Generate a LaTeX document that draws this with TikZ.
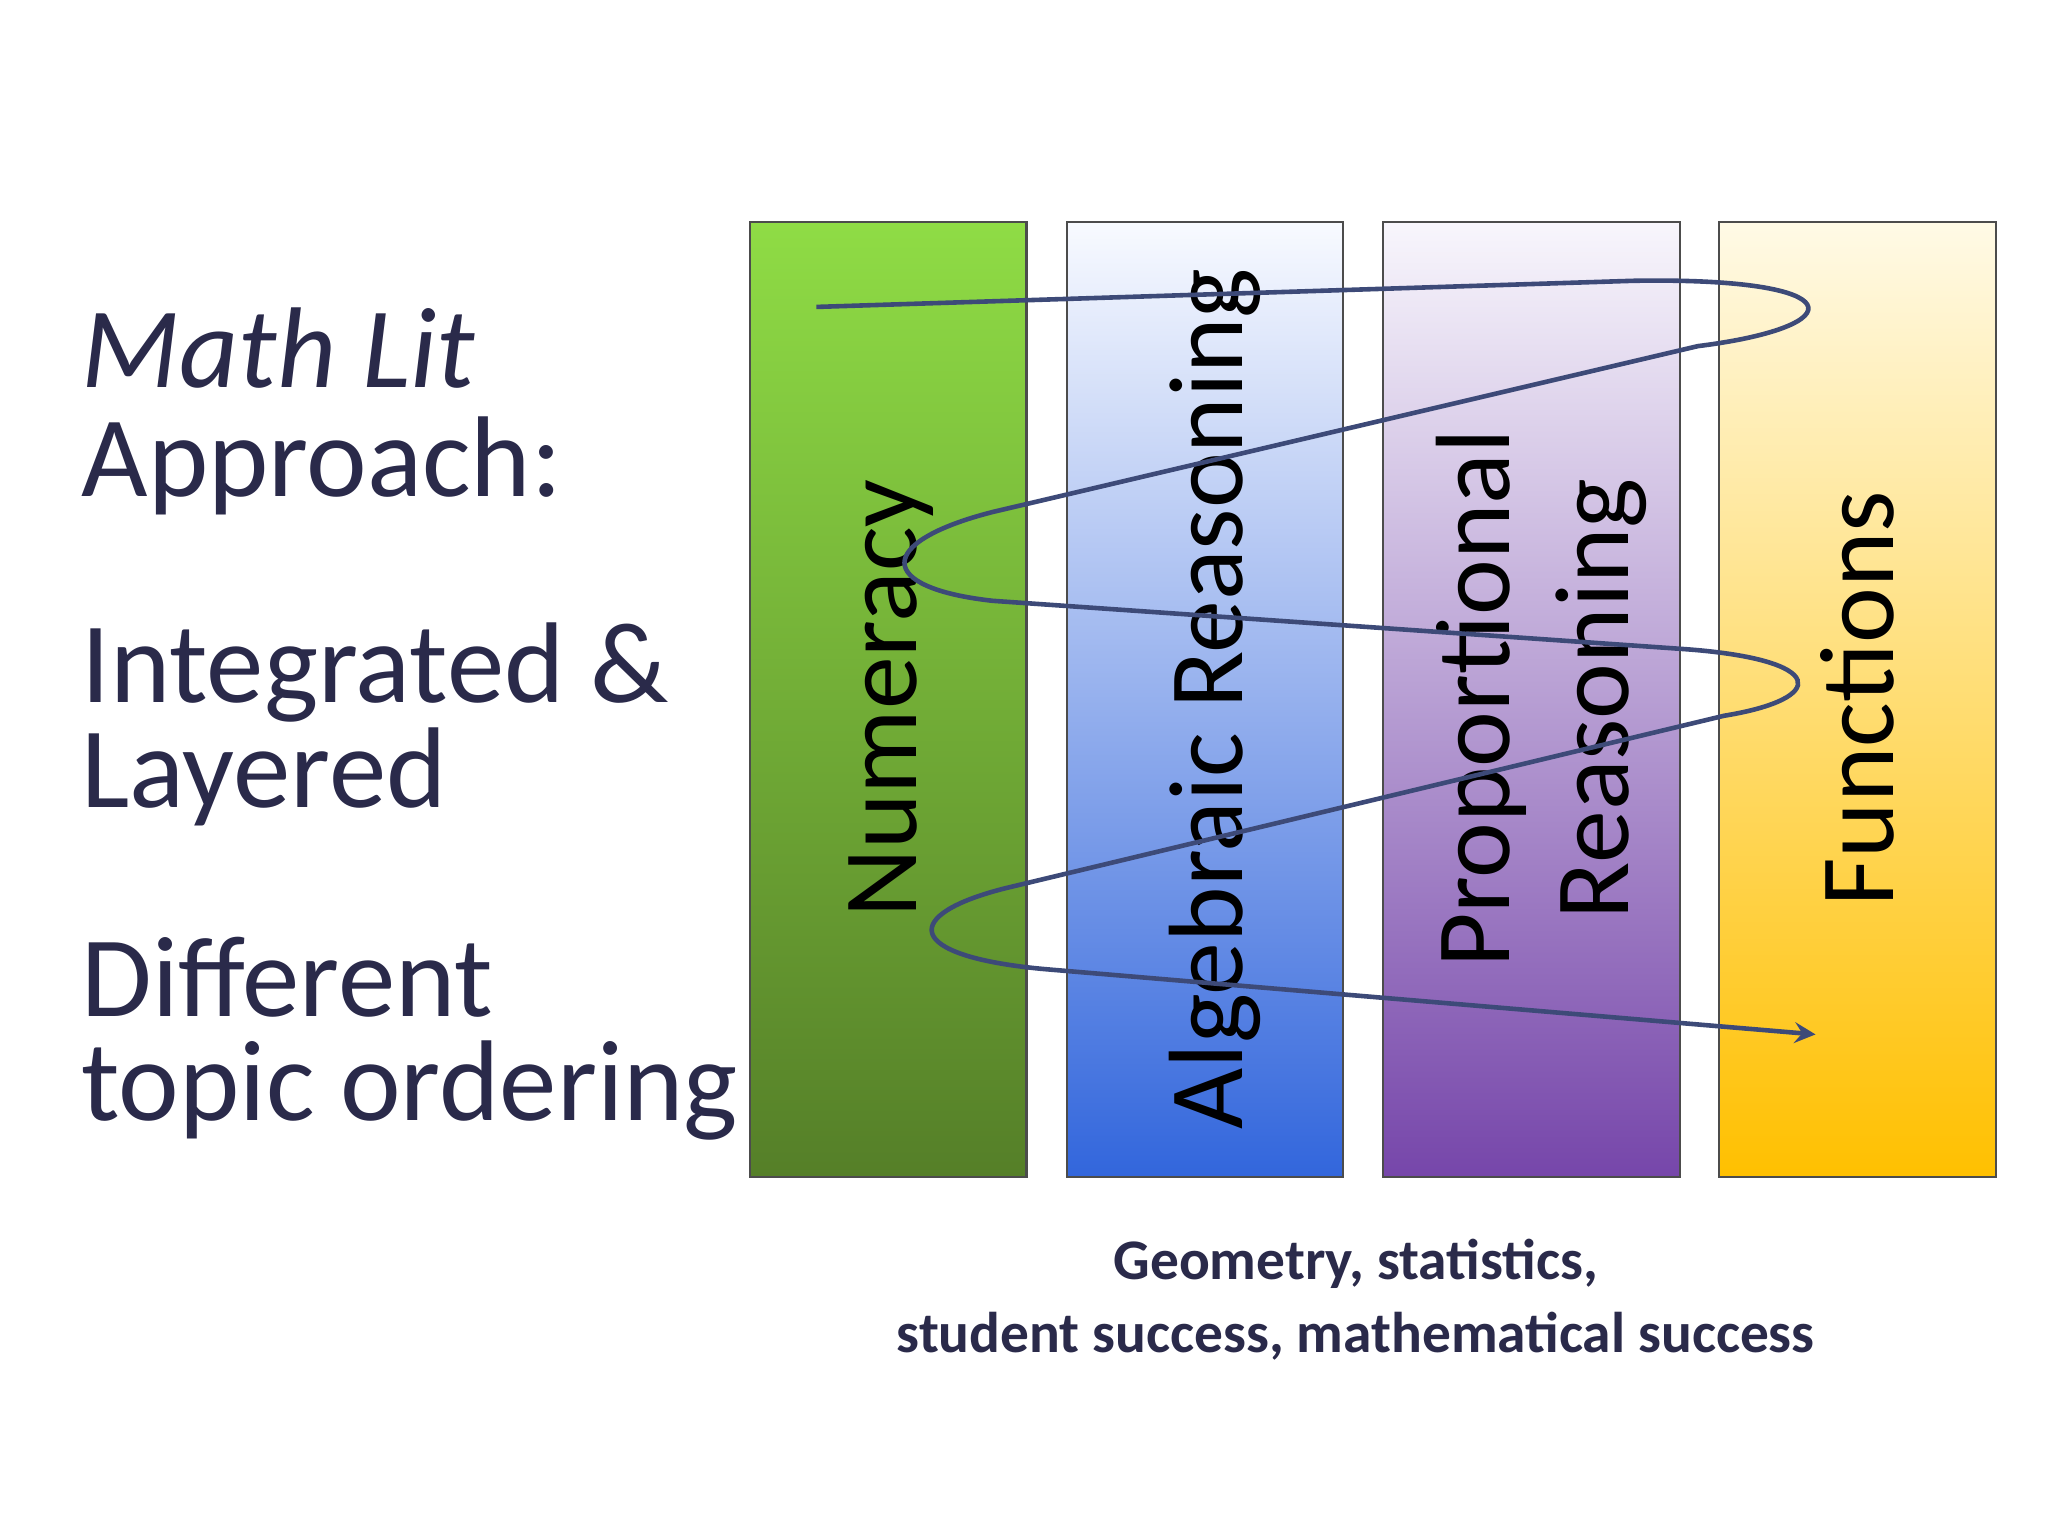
\documentclass[tikz,border=0pt]{standalone}
\usepackage{fontspec}
\setmainfont{Carlito}
\begin{document}
\begin{tikzpicture}[x=0.01cm,y=-0.01cm,
  bar/.style={draw=black!70,line width=0.5pt},
  bartext/.style={rotate=90,font=\fontsize{23}{26}\selectfont,text=black,align=center},
  lefttext/.style={anchor=base west,font=\fontsize{25}{28}\selectfont,text=navy},
  spiral/.style={draw=curve,line width=1pt}]
\definecolor{navy}{HTML}{2A2A4A}
\definecolor{curve}{HTML}{3D4A78}
\useasboundingbox (0,0) rectangle (1568,1176);
\fill[white] (0,0) rectangle (1568,1176);
\shade[bar,top color={rgb,255:red,143;green,220;blue,69},bottom color={rgb,255:red,85;green,127;blue,40}] (574,170) rectangle (786,901);
\shade[bar,top color={rgb,255:red,248;green,250;blue,255},middle color={rgb,255:red,140;green,170;blue,235},bottom color={rgb,255:red,50;green,102;blue,220}] (817,170) rectangle (1028,901);
\shade[bar,top color={rgb,255:red,248;green,246;blue,252},middle color={rgb,255:red,175;green,140;blue,205},bottom color={rgb,255:red,118;green,70;blue,170}] (1059,170) rectangle (1286,901);
\shade[bar,top color={rgb,255:red,255;green,250;blue,230},middle color={rgb,255:red,255;green,192;blue,0},bottom color={rgb,255:red,255;green,192;blue,0}] (1316,170) rectangle (1528,901);
\node[bartext] (num) at (682,535) {Numeracy};
\node[bartext] (alg) at (930,535) {Algebraic Reasoning};
\node[bartext] (prop) at (1180,535) {Proportional\\Reasoning};
\node[bartext] (fun) at (1422,535) {Functions};
\node[lefttext] (t1) at (50,297) {\itshape Math Lit};
\node[lefttext] (t2) at (50,380) {Approach:};
\node[lefttext] (t3) at (50,538) {Integrated \&};
\node[lefttext] (t4) at (50,618) {Layered};
\node[lefttext] (t5) at (50,778) {Different};
\node[lefttext] (t6) at (50,858) {topic ordering};
\node[font=\bfseries\fontsize{12.5}{16}\selectfont,text=navy,align=center] (bot) at (1038,995) {Geometry, statistics,\\student success, mathematical success};
\coordinate (s) at (625,235);
\coordinate (e) at (1390,792);
\draw[spiral,-stealth] (s) -- (1250,215) .. controls (1420,212) and (1420,250) .. (1300,265)
  -- (760,392) .. controls (670,415) and (670,450) .. (760,460)
  -- (1290,497) .. controls (1400,505) and (1400,535) .. (1320,548)
  -- (770,680) .. controls (690,700) and (690,732) .. (800,742)
  -- (e);
\end{tikzpicture}
\end{document}
